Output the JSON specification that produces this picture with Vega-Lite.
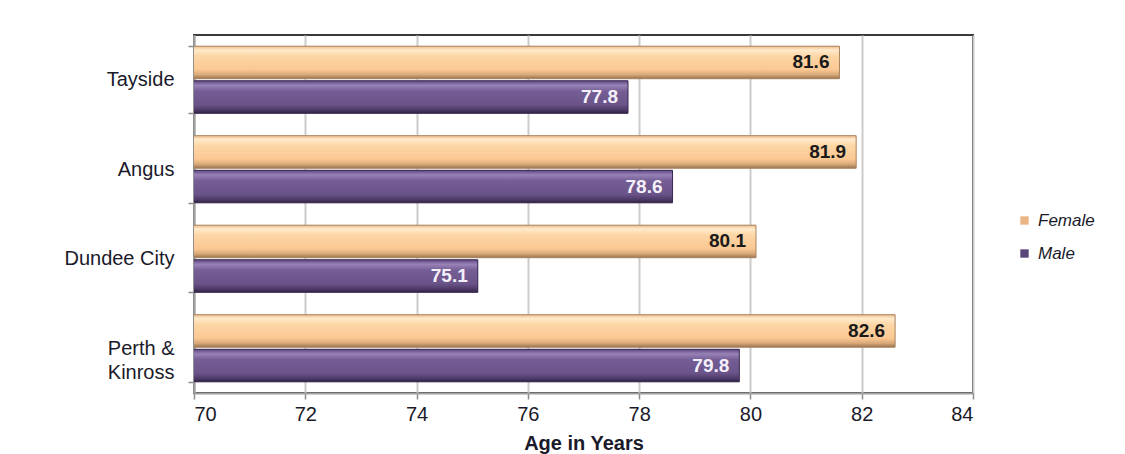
{
  "$schema": "https://vega.github.io/schema/vega-lite/v6.json",
  "width": 779,
  "height": 358,
  "autosize": "none",
  "padding": {"left": 194, "top": 35, "right": 152, "bottom": 61},
  "background": "white",
  "config": {
    "font": "Liberation Sans",
    "view": {"stroke": "#3a3a3a", "strokeWidth": 2}
  },
  "data": {
    "values": [
      {"region": "Tayside", "sex": "Female", "age": 81.6},
      {"region": "Tayside", "sex": "Male", "age": 77.8},
      {"region": "Angus", "sex": "Female", "age": 81.9},
      {"region": "Angus", "sex": "Male", "age": 78.6},
      {"region": "Dundee City", "sex": "Female", "age": 80.1},
      {"region": "Dundee City", "sex": "Male", "age": 75.1},
      {"region": "Perth & Kinross", "sex": "Female", "age": 82.6},
      {"region": "Perth & Kinross", "sex": "Male", "age": 79.8}
    ]
  },
  "encoding": {
    "y": {
      "field": "region",
      "type": "nominal",
      "sort": ["Tayside", "Angus", "Dundee City", "Perth & Kinross"],
      "scale": {"paddingInner": 0.25, "paddingOuter": 0.125},
      "axis": {
        "title": null,
        "tickBand": "extent",
        "ticks": true,
        "tickSize": 6,
        "tickColor": "#8c8c8c",
        "tickWidth": 1.5,
        "domainColor": "#a0a0a0",
        "domainWidth": 2,
        "labelFontSize": 20,
        "labelColor": "#1a1a2a",
        "labelPadding": 14,
        "labelLineHeight": 24,
        "labelExpr": "datum.value == 'Perth & Kinross' ? ['Perth &', 'Kinross'] : datum.value"
      }
    },
    "yOffset": {
      "field": "sex",
      "type": "nominal",
      "sort": ["Female", "Male"],
      "scale": {"paddingInner": 0.06}
    },
    "x": {
      "field": "age",
      "type": "quantitative",
      "scale": {"domain": [70, 84], "zero": false, "nice": false},
      "axis": {
        "title": "Age in Years",
        "titleFontSize": 20,
        "titleFontWeight": "bold",
        "titleColor": "#1a1a2a",
        "titlePadding": 9,
        "values": [70, 72, 74, 76, 78, 80, 82, 84],
        "grid": true,
        "gridColor": "#cccccc",
        "gridWidth": 2,
        "tickColor": "#8c8c8c",
        "tickSize": 6,
        "tickWidth": 1.5,
        "domainColor": "#a0a0a0",
        "domainWidth": 2,
        "labelFontSize": 20,
        "labelColor": "#1a1a2a",
        "labelPadding": 5
      }
    }
  },
  "layer": [
    {
      "mark": {"type": "bar", "clip": true},
      "encoding": {
        "color": {
          "field": "sex",
          "type": "nominal",
          "scale": {"domain": ["Female", "Male"], "range": ["#e9b585", "#5a4578"]},
          "legend": {
            "title": null,
            "orient": "none",
            "legendX": 822,
            "legendY": 177,
            "symbolType": "square",
            "symbolSize": 70,
            "symbolStrokeWidth": 0,
            "labelFontSize": 17,
            "labelFontStyle": "italic",
            "labelColor": "#1a1a2a",
            "labelOffset": 5,
            "rowPadding": 15
          }
        }
      }
    },
    {
      "transform": [{"filter": "datum.sex == 'Female'"}],
      "mark": {
        "type": "bar",
        "clip": true,
        "stroke": "#a98562",
        "strokeWidth": 1,
        "fill": {
          "gradient": "linear",
          "x1": 0, "y1": 0, "x2": 0, "y2": 1,
          "stops": [
            {"offset": 0, "color": "#eebd8c"},
            {"offset": 0.12, "color": "#ffeacb"},
            {"offset": 0.3, "color": "#fdd6a6"},
            {"offset": 0.72, "color": "#fbc893"},
            {"offset": 0.88, "color": "#d8a878"},
            {"offset": 1, "color": "#96734f"}
          ]
        }
      }
    },
    {
      "transform": [{"filter": "datum.sex == 'Male'"}],
      "mark": {
        "type": "bar",
        "clip": true,
        "stroke": "#3b2b52",
        "strokeWidth": 1,
        "fill": {
          "gradient": "linear",
          "x1": 0, "y1": 0, "x2": 0, "y2": 1,
          "stops": [
            {"offset": 0, "color": "#5c4680"},
            {"offset": 0.14, "color": "#9882b6"},
            {"offset": 0.32, "color": "#755e95"},
            {"offset": 0.74, "color": "#6a5388"},
            {"offset": 0.9, "color": "#4d3a68"},
            {"offset": 1, "color": "#2e2240"}
          ]
        }
      }
    },
    {
      "mark": {
        "type": "text",
        "align": "right",
        "baseline": "middle",
        "dx": -10,
        "fontSize": 19,
        "fontWeight": "bold"
      },
      "encoding": {
        "text": {"field": "age", "type": "quantitative", "format": ".1f"},
        "color": {
          "condition": {"test": "datum.sex == 'Female'", "value": "#1a1a1a"},
          "value": "#f4f0fa"
        }
      }
    }
  ]
}
